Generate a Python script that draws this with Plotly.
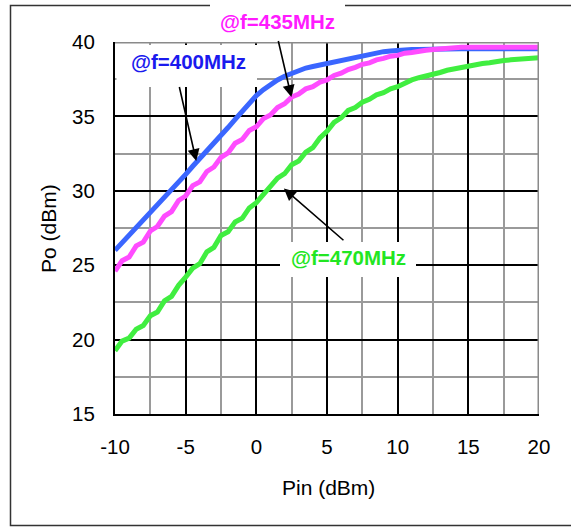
import plotly.graph_objects as go

# Input drive level (dBm), 0.5 dB steps
pin = [x * 0.5 for x in range(-20, 41)]

# Output power (dBm) at each frequency
po_400 = [26.0, 26.5, 27.05, 27.5, 28.0, 28.55, 29.05, 29.55, 30.05, 30.6,
          31.1, 31.65, 32.15, 32.65, 33.2, 33.7, 34.25, 34.8, 35.35, 35.9,
          36.4, 36.8, 37.15, 37.45, 37.7, 37.9, 38.1, 38.25, 38.35, 38.45,
          38.55, 38.65, 38.8, 38.9, 39.0, 39.1, 39.2, 39.3, 39.35, 39.4,
          39.45, 39.5, 39.5, 39.5, 39.52, 39.52, 39.55, 39.55, 39.55, 39.55,
          39.55, 39.55, 39.55, 39.55, 39.55, 39.55, 39.55, 39.55, 39.55, 39.55,
          39.55]
po_435 = [24.6, 25.3, 25.55, 26.3, 26.55, 27.3, 27.6, 28.3, 28.6, 29.35,
          29.65, 30.35, 30.6, 31.3, 31.6, 32.25, 32.55, 33.2, 33.45, 34.05,
          34.3, 34.85, 35.1, 35.6, 35.85, 36.3, 36.5, 36.85, 37.0, 37.3,
          37.45, 37.75, 37.9, 38.15, 38.3, 38.5, 38.6, 38.8, 38.9, 39.05,
          39.1, 39.25, 39.3, 39.4, 39.45, 39.5, 39.55, 39.6, 39.6, 39.65,
          39.65, 39.65, 39.65, 39.65, 39.65, 39.65, 39.65, 39.65, 39.65, 39.65,
          39.65]
po_470 = [19.25, 19.9, 20.1, 20.7, 20.95, 21.6, 21.85, 22.6, 22.9, 23.65,
          24.2, 24.8, 25.1, 25.9, 26.2, 27.0, 27.25, 27.9, 28.15, 28.85,
          29.2, 29.75, 30.2, 30.85, 31.15, 31.75, 32.0, 32.6, 32.9, 33.55,
          34.0, 34.6, 34.9, 35.4, 35.6, 35.95, 36.15, 36.45, 36.6, 36.85,
          37.0, 37.25, 37.45, 37.6, 37.7, 37.8, 37.95, 38.1, 38.2, 38.3,
          38.35, 38.45, 38.55, 38.6, 38.7, 38.75, 38.8, 38.85, 38.9, 38.95,
          38.95]

x_ticks = [-10, -5, 0, 5, 10, 15, 20]
x_ticktext = ["-10", "-5", "0", "5", "10", "15", "20"]
y_ticks = [15, 20, 25, 30, 35, 40]
labels = ["@f=400MHz", "@f=435MHz", "@f=470MHz"]

W, H = 571, 527
ML, MR, MT, MB = 115, 32, 42, 113
PW, PH = W - ML - MR, H - MT - MB
FONT = "Liberation Sans, Arial, sans-serif"


def px_x(p):
    return (p - ML) / PW


def px_y(p):
    return (H - MB - p) / PH


fig = go.Figure()
fig.add_trace(go.Scatter(x=pin, y=po_470, mode="lines",
                         line=dict(color="#40ee40", width=5), name=labels[2]))
fig.add_trace(go.Scatter(x=pin, y=po_400, mode="lines",
                         line=dict(color="#3a66ff", width=5), name=labels[0]))
fig.add_trace(go.Scatter(x=pin, y=po_435, mode="lines",
                         line=dict(color="#ff4cff", width=5), name=labels[1]))

shapes = [
    # grey top and right edges of the plot area
    dict(type="line", xref="x", yref="y", x0=-10, x1=20, y0=40, y1=40,
         line=dict(color="#8a8a8a", width=3), layer="above"),
    dict(type="line", xref="x", yref="y", x0=20, x1=20, y0=15, y1=40,
         line=dict(color="#8a8a8a", width=3), layer="above"),
    # outer frame
    dict(type="rect", xref="paper", yref="paper",
         x0=px_x(10.5), x1=px_x(580), y0=px_y(525.5), y1=px_y(5.5),
         line=dict(color="#333333", width=1.5), layer="above"),
    # white label boxes
    dict(type="rect", xref="paper", yref="paper",
         x0=px_x(116.5), x1=px_x(257), y0=px_y(87), y1=px_y(45),
         fillcolor="white", line=dict(width=0), layer="above"),
    dict(type="rect", xref="paper", yref="paper",
         x0=px_x(210), x1=px_x(345), y0=px_y(39), y1=px_y(0),
         fillcolor="white", line=dict(width=0), layer="above"),
    dict(type="rect", xref="paper", yref="paper",
         x0=px_x(280), x1=px_x(416), y0=px_y(277), y1=px_y(242),
         fillcolor="white", line=dict(width=0), layer="above"),
]

annotations = []
label_specs = [
    (labels[0], 188, 62, "#1a1aee"),
    (labels[1], 277, 21, "#ff1aff"),
    (labels[2], 348, 257, "#22e622"),
]
for text, cx, cy, col in label_specs:
    annotations.append(dict(
        text=f"<b>{text}</b>", xref="paper", yref="paper",
        x=px_x(cx), y=px_y(cy), xanchor="center", yanchor="middle",
        showarrow=False, font=dict(family=FONT, size=20.5, color=col)))

# pointer arrows: (tail x, tail y, tip x, tip y) in data units
arrows = [(-5.47, 37.08, -4.25, 32.0),
          (1.53, 40.17, 2.48, 36.3),
          (6.27, 26.59, 1.95, 30.15)]
for ax_, ay_, x_, y_ in arrows:
    annotations.append(dict(
        text="", x=x_, y=y_, ax=ax_, ay=ay_, xref="x", yref="y",
        axref="x", ayref="y", showarrow=True, arrowhead=2, arrowsize=1.5,
        arrowwidth=1.6, arrowcolor="black", standoff=0, startstandoff=0))

annotations.append(dict(
    text="Pin (dBm)", xref="paper", yref="paper", x=px_x(328), y=px_y(487),
    xanchor="center", yanchor="middle", showarrow=False,
    font=dict(family=FONT, size=21, color="black")))
annotations.append(dict(
    text="Po (dBm)", xref="paper", yref="paper", x=px_x(48), y=px_y(229),
    xanchor="center", yanchor="middle", showarrow=False, textangle=-90,
    font=dict(family=FONT, size=21, color="black")))

axis_common = dict(
    showgrid=True, gridcolor="black", gridwidth=2,
    showline=True, linecolor="black", linewidth=2,
    ticks="", zeroline=False,
    tickfont=dict(family=FONT, size=20.5, color="black"),
    minor=dict(dtick=2.5, showgrid=True, gridcolor="#9a9a9a", gridwidth=2),
)

fig.update_layout(
    width=W, height=H,
    margin=dict(l=ML, r=MR, t=MT, b=MB),
    paper_bgcolor="white", plot_bgcolor="white",
    showlegend=False,
    xaxis=dict(range=[-10, 20], tickvals=x_ticks, ticktext=x_ticktext,
               ticklabelstandoff=13, **axis_common),
    yaxis=dict(range=[15, 40], tickvals=y_ticks, ticklabelstandoff=14,
               **axis_common),
    shapes=shapes,
    annotations=annotations,
)

fig.write_html("out.html")
